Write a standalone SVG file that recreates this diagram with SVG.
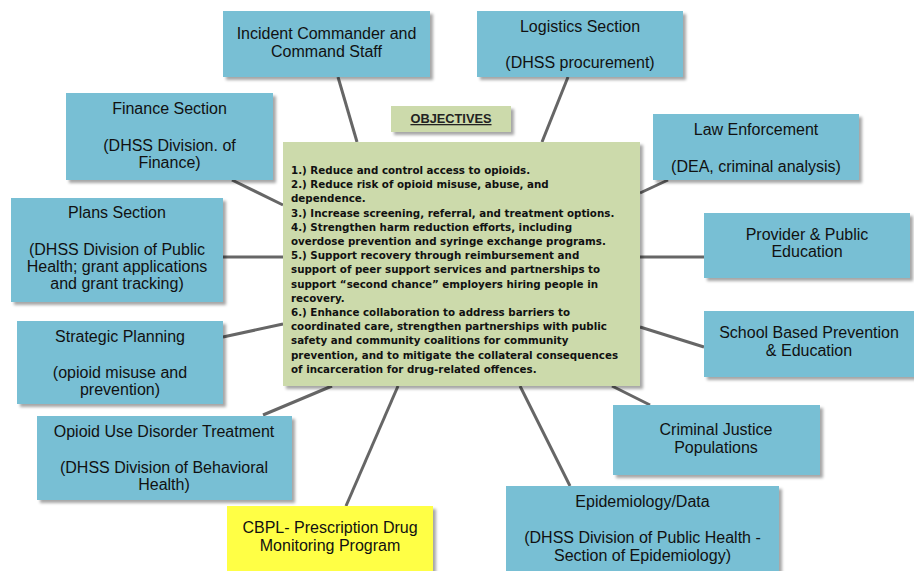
<svg xmlns="http://www.w3.org/2000/svg" width="914" height="571" viewBox="0 0 914 571">
<defs>
<filter id="sh" x="-10%" y="-10%" width="130%" height="130%">
<feDropShadow dx="3" dy="3" stdDeviation="1.5" flood-color="#000" flood-opacity="0.35"/>
</filter>
<style>
.box{fill:#78bfd4;filter:url(#sh);}
.yel{fill:#ffff45;filter:url(#sh);}
.grn{fill:#ccdaab;filter:url(#sh);}
.t{font-family:"Liberation Sans",Arial,sans-serif;font-size:16px;fill:#111;text-anchor:middle;}
.ob{font-family:"DejaVu Sans",Verdana,sans-serif;font-size:10.3px;font-weight:bold;fill:#111;}
.hd{font-family:"Liberation Sans",Arial,sans-serif;font-size:12.8px;font-weight:bold;fill:#222;text-anchor:middle;text-decoration:underline;}
.c{stroke:#666;stroke-width:3;fill:none;}
</style>
</defs>
<rect width="914" height="571" fill="#fff"/>
<g id="connectors">
<line class="c" x1="338" y1="77" x2="357" y2="142"/>
<line class="c" x1="568" y1="77" x2="542" y2="142"/>
<line class="c" x1="232" y1="180" x2="283" y2="205"/>
<line class="c" x1="223" y1="257" x2="283" y2="257"/>
<line class="c" x1="223" y1="337" x2="283" y2="324"/>
<line class="c" x1="263" y1="415" x2="332" y2="386"/>
<line class="c" x1="346" y1="506" x2="398" y2="386"/>
<line class="c" x1="570" y1="486" x2="520" y2="386"/>
<line class="c" x1="650" y1="405" x2="612" y2="386"/>
<line class="c" x1="640" y1="327" x2="704" y2="347"/>
<line class="c" x1="640" y1="257" x2="704" y2="257"/>
<line class="c" x1="640" y1="193" x2="668" y2="180"/>
</g>
<g id="objectives-label">
<rect class="grn" x="391" y="106" width="120" height="26"/>
<text class="hd" x="451" y="123">OBJECTIVES</text>
</g>
<g id="objectives">
<rect class="grn" x="283" y="142" width="357" height="244"/>
<text class="ob">
<tspan x="291" y="174">1.) Reduce and control access to opioids.</tspan>
<tspan x="291" y="188.2">2.) Reduce risk of opioid misuse, abuse, and</tspan>
<tspan x="291" y="202.4">dependence.</tspan>
<tspan x="291" y="216.6">3.) Increase screening, referral, and treatment options.</tspan>
<tspan x="291" y="230.8">4.) Strengthen harm reduction efforts, including</tspan>
<tspan x="291" y="245">overdose prevention and syringe exchange programs.</tspan>
<tspan x="291" y="259.2">5.) Support recovery through reimbursement and</tspan>
<tspan x="291" y="273.4">support of peer support services and partnerships to</tspan>
<tspan x="291" y="287.6">support “second chance” employers hiring people in</tspan>
<tspan x="291" y="301.8">recovery.</tspan>
<tspan x="291" y="316">6.) Enhance collaboration to address barriers to</tspan>
<tspan x="291" y="330.2">coordinated care, strengthen partnerships with public</tspan>
<tspan x="291" y="344.4">safety and community coalitions for community</tspan>
<tspan x="291" y="358.6">prevention, and to mitigate the collateral consequences</tspan>
<tspan x="291" y="372.8">of incarceration for drug-related offences.</tspan>
</text>
</g>
<g id="incident">
<rect class="box" x="223" y="11" width="207" height="66"/>
<text class="t"><tspan x="326.5" y="39">Incident Commander and</tspan><tspan x="326.5" y="57">Command Staff</tspan></text>
</g>
<g id="logistics">
<rect class="box" x="477" y="11" width="206" height="66"/>
<text class="t"><tspan x="580" y="32">Logistics Section</tspan><tspan x="580" y="68">(DHSS procurement)</tspan></text>
</g>
<g id="finance">
<rect class="box" x="66" y="93" width="207" height="87"/>
<text class="t"><tspan x="169.5" y="114">Finance Section</tspan><tspan x="169.5" y="151">(DHSS Division. of</tspan><tspan x="169.5" y="168">Finance)</tspan></text>
</g>
<g id="plans">
<rect class="box" x="11" y="198" width="212" height="104"/>
<text class="t"><tspan x="117" y="218">Plans Section</tspan><tspan x="117" y="255">(DHSS Division of Public</tspan><tspan x="117" y="272">Health; grant applications</tspan><tspan x="117" y="289">and grant tracking)</tspan></text>
</g>
<g id="strategic">
<rect class="box" x="17" y="321" width="206" height="83"/>
<text class="t"><tspan x="120" y="342">Strategic Planning</tspan><tspan x="120" y="378">(opioid misuse and</tspan><tspan x="120" y="395">prevention)</tspan></text>
</g>
<g id="oud">
<rect class="box" x="37" y="416" width="255" height="84"/>
<text class="t"><tspan x="164" y="437">Opioid Use Disorder Treatment</tspan><tspan x="164" y="473">(DHSS Division of Behavioral</tspan><tspan x="164" y="490">Health)</tspan></text>
</g>
<g id="cbpl">
<rect class="yel" x="227" y="506" width="206" height="68"/>
<text class="t"><tspan x="330" y="533">CBPL- Prescription Drug</tspan><tspan x="330" y="551">Monitoring Program</tspan></text>
</g>
<g id="epidemiology">
<rect class="box" x="506" y="486" width="273" height="90"/>
<text class="t"><tspan x="642.5" y="507">Epidemiology/Data</tspan><tspan x="642.5" y="543">(DHSS Division of Public Health -</tspan><tspan x="642.5" y="561">Section of Epidemiology)</tspan></text>
</g>
<g id="criminal">
<rect class="box" x="613" y="405" width="207" height="70"/>
<text class="t"><tspan x="716" y="435">Criminal Justice</tspan><tspan x="716" y="453">Populations</tspan></text>
</g>
<g id="school">
<rect class="box" x="704" y="311" width="214" height="66"/>
<text class="t"><tspan x="809" y="338">School Based Prevention</tspan><tspan x="809" y="356">&amp; Education</tspan></text>
</g>
<g id="provider">
<rect class="box" x="704" y="213" width="206" height="65"/>
<text class="t"><tspan x="807" y="240">Provider &amp; Public</tspan><tspan x="807" y="257">Education</tspan></text>
</g>
<g id="law">
<rect class="box" x="653" y="114" width="206" height="66"/>
<text class="t"><tspan x="756" y="135">Law Enforcement</tspan><tspan x="756" y="172">(DEA, criminal analysis)</tspan></text>
</g>
</svg>
